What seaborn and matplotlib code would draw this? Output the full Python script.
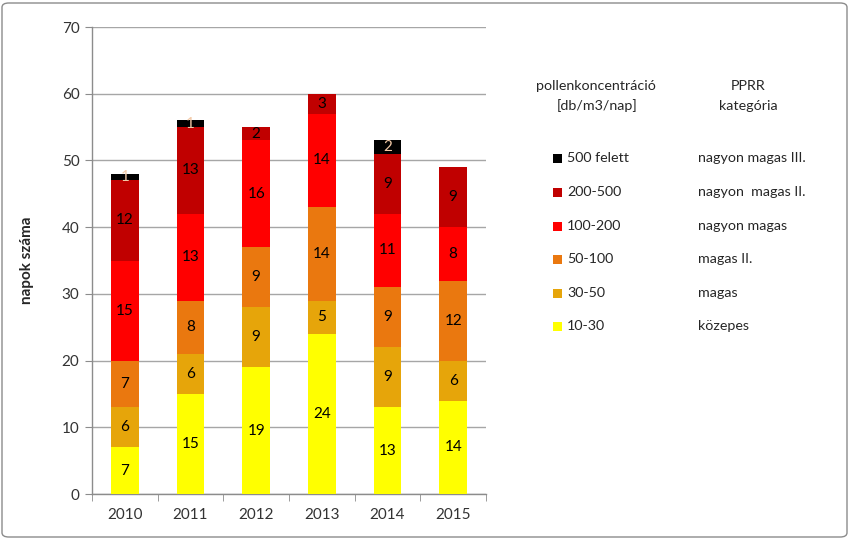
import numpy as np
import pandas as pd
import matplotlib
matplotlib.use("Agg")
import matplotlib.pyplot as plt
from matplotlib.patches import Rectangle, FancyBboxPatch
import seaborn as sns

# data
years = ["2010", "2011", "2012", "2013", "2014", "2015"]
conc_labels = ["10-30", "30-50", "50-100", "100-200", "200-500", "500 felett"]
pprr_labels = ["közepes", "magas", "magas II.", "nagyon magas", "nagyon  magas II.", "nagyon magas III."]
d_10_30 = [7, 15, 19, 24, 13, 14]
d_30_50 = [6, 6, 9, 5, 9, 6]
d_50_100 = [7, 8, 9, 14, 9, 12]
d_100_200 = [15, 13, 16, 14, 11, 8]
d_200_500 = [12, 13, 2, 3, 9, 9]
d_500 = [1, 1, 0, 0, 2, 0]

colors = ["#FFFF00", "#E6A50A", "#EA780F", "#FF0000", "#C00000", "#000000"]
label_colors = ["black", "black", "black", "black", "black", "#F3C9A6"]

layers = [d_10_30, d_30_50, d_50_100, d_100_200, d_200_500, d_500]
df = pd.DataFrame({lab: vals for lab, vals in zip(conc_labels, layers)}, index=years)
cum = df.cumsum(axis=1)

sns.set_style("white")
plt.rcParams["font.family"] = ["Lato", "DejaVu Sans"]
plt.rcParams["font.size"] = 11

fig = plt.figure(figsize=(8.5, 5.39), dpi=100)
ax = fig.add_axes([92 / 850, 1 - 494 / 539, 394 / 850, 467 / 539])

# stacked bars: draw cumulative totals from the top layer down
for lab, col in reversed(list(zip(conc_labels, colors))):
    sns.barplot(x=years, y=cum[lab].values, color=col, saturation=1,
                width=0.42, linewidth=0, ax=ax, zorder=3)

# segment labels
for j, lab in enumerate(conc_labels):
    for i, y in enumerate(years):
        v = df.loc[y, lab]
        if v == 0:
            continue
        mid = cum.loc[y, lab] - v / 2
        ax.text(i, mid, str(v), ha="center", va="center", fontsize=11,
                color=label_colors[j], zorder=5)

ax.set_ylim(0, 70)
ax.set_xlim(-0.5, 5.5)
ax.set_yticks(range(0, 71, 10))
ax.yaxis.grid(True, color="#A6A6A6", linewidth=1, zorder=0)
ax.set_axisbelow(True)
for s in ["top", "right"]:
    ax.spines[s].set_visible(False)
for s in ["left", "bottom"]:
    ax.spines[s].set_color("#8C8C8C")
    ax.spines[s].set_linewidth(1)
ax.tick_params(axis="y", which="major", direction="out", length=5, color="#8C8C8C",
               labelsize=11, labelcolor="#333333", pad=4, left=True)
ax.tick_params(axis="x", which="major", length=0, labelsize=11, labelcolor="#333333", pad=10)
ax.set_xticks(np.arange(-0.5, 6, 1), minor=True)
ax.tick_params(axis="x", which="minor", direction="out", length=5, color="#8C8C8C", bottom=True)
ax.set_xlabel("")
ax.set_ylabel("napok száma", fontsize=11, fontweight="bold", labelpad=20)

# legend-like table on the right
def fy(p):
    return 1 - p / 539

fs = 10.3
fig.text(596 / 850, fy(86), "pollenkoncentráció", ha="center", va="center", fontsize=fs)
fig.text(597 / 850, fy(106), "[db/m3/nap]", ha="center", va="center", fontsize=fs)
fig.text(748 / 850, fy(86), "PPRR", ha="center", va="center", fontsize=fs)
fig.text(748 / 850, fy(106), "kategória", ha="center", va="center", fontsize=fs)

row_y = [158, 192, 226, 259, 293, 326]
for k, yy in enumerate(row_y):
    idx = len(conc_labels) - 1 - k
    fig.patches.append(Rectangle((553 / 850, fy(yy + 4.5)), 9 / 850, 9 / 539,
                                 transform=fig.transFigure, facecolor=colors[idx],
                                 edgecolor="none", figure=fig))
    fig.text(567 / 850, fy(yy), conc_labels[idx], ha="left", va="center", fontsize=fs)
    fig.text(698 / 850, fy(yy), pprr_labels[idx], ha="left", va="center", fontsize=fs)

# outer chart border
fig.patches.append(FancyBboxPatch((2 / 850, 2 / 539), 845 / 850, 534 / 539,
                                  boxstyle="round,pad=0,rounding_size=0.008",
                                  transform=fig.transFigure, facecolor="none",
                                  edgecolor="#8C8C8C", linewidth=1, figure=fig))

plt.savefig("out.png", dpi=100)
